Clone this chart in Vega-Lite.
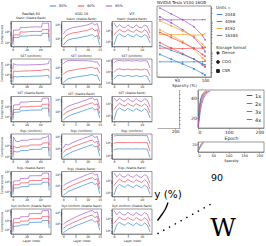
{
"$schema":"https://vega.github.io/schema/vega-lite/v6.json",
"padding":0,
"spacing":1,
"config":{
 "font":"DejaVu Sans",
 "view":{"stroke":"#333","strokeWidth":0.5},
 "axis":{"grid":false,"labelFontSize":3,"titleFontSize":3,"tickSize":1.2,"tickWidth":0.4,"domainWidth":0.4,"domainColor":"#333","tickColor":"#333","labelPadding":0.5,"titlePadding":1,"labelColor":"#222","titleColor":"#222","titleFontWeight":"normal"},
 "title":{"fontSize":3.5,"fontWeight":"normal","offset":1.2,"subtitleFontSize":3,"subtitlePadding":1.5,"color":"#222","subtitleColor":"#222"},
 "legend":{"labelFontSize":4,"titleFontSize":4,"titleFontWeight":"normal","symbolSize":20,"symbolStrokeWidth":1,"rowPadding":1,"padding":0,"labelOffset":2,"titlePadding":1,"offset":3,"labelColor":"#222","titleColor":"#222"}
},
"datasets":{
"k":[{"s":"s80"},{"s":"s90"},{"s":"s95"}],
"g":[
{"p":"1a","x":0,"s80":6,"s90":9,"s95":15},{"p":"1a","x":1,"s80":30,"s90":50,"s95":140},{"p":"1a","x":5,"s80":28,"s90":52,"s95":135},{"p":"1a","x":10,"s80":31,"s90":48,"s95":145},{"p":"1a","x":11,"s80":40,"s90":95,"s95":240},{"p":"1a","x":17,"s80":38,"s90":90,"s95":230},{"p":"1a","x":23,"s80":42,"s90":98,"s95":245},{"p":"1a","x":24,"s80":45,"s90":100,"s95":260},{"p":"1a","x":33,"s80":47,"s90":105,"s95":270},{"p":"1a","x":42,"s80":44,"s90":102,"s95":265},{"p":"1a","x":43,"s80":70,"s90":150,"s95":600},{"p":"1a","x":48,"s80":68,"s90":155,"s95":580},{"p":"1a","x":52,"s80":72,"s90":150,"s95":610},{"p":"1a","x":53,"s80":12,"s90":30,"s95":100},
{"p":"2a","x":0,"s80":15,"s90":40,"s95":300},{"p":"2a","x":1,"s80":60,"s90":220,"s95":1200},{"p":"2a","x":5,"s80":55,"s90":200,"s95":900},{"p":"2a","x":10,"s80":58,"s90":205,"s95":880},{"p":"2a","x":11,"s80":60,"s90":210,"s95":900},{"p":"2a","x":17,"s80":58,"s90":215,"s95":880},{"p":"2a","x":23,"s80":62,"s90":220,"s95":900},{"p":"2a","x":24,"s80":63,"s90":225,"s95":920},{"p":"2a","x":33,"s80":65,"s90":240,"s95":950},{"p":"2a","x":42,"s80":68,"s90":250,"s95":980},{"p":"2a","x":43,"s80":70,"s90":280,"s95":1000},{"p":"2a","x":48,"s80":75,"s90":300,"s95":1100},{"p":"2a","x":52,"s80":80,"s90":320,"s95":1200},{"p":"2a","x":53,"s80":40,"s90":200,"s95":2500},
{"p":"3a","x":0,"s80":5,"s90":8,"s95":14},{"p":"3a","x":1,"s80":25,"s90":45,"s95":120},{"p":"3a","x":5,"s80":26,"s90":47,"s95":125},{"p":"3a","x":10,"s80":27,"s90":46,"s95":128},{"p":"3a","x":11,"s80":35,"s90":80,"s95":220},{"p":"3a","x":17,"s80":36,"s90":82,"s95":225},{"p":"3a","x":23,"s80":37,"s90":83,"s95":230},{"p":"3a","x":24,"s80":40,"s90":90,"s95":250},{"p":"3a","x":33,"s80":41,"s90":92,"s95":255},{"p":"3a","x":42,"s80":42,"s90":93,"s95":258},{"p":"3a","x":43,"s80":60,"s90":140,"s95":500},{"p":"3a","x":48,"s80":61,"s90":142,"s95":520},{"p":"3a","x":52,"s80":62,"s90":145,"s95":530},{"p":"3a","x":53,"s80":10,"s90":25,"s95":90},
{"p":"4a","x":0,"s80":8,"s90":15,"s95":40},{"p":"4a","x":1,"s80":30,"s90":80,"s95":500},{"p":"4a","x":5,"s80":25,"s90":60,"s95":200},{"p":"4a","x":10,"s80":26,"s90":62,"s95":210},{"p":"4a","x":11,"s80":32,"s90":80,"s95":260},{"p":"4a","x":17,"s80":33,"s90":82,"s95":265},{"p":"4a","x":23,"s80":34,"s90":84,"s95":270},{"p":"4a","x":24,"s80":40,"s90":100,"s95":320},{"p":"4a","x":33,"s80":42,"s90":102,"s95":330},{"p":"4a","x":42,"s80":43,"s90":105,"s95":335},{"p":"4a","x":43,"s80":60,"s90":150,"s95":450},{"p":"4a","x":48,"s80":62,"s90":155,"s95":470},{"p":"4a","x":52,"s80":65,"s90":160,"s95":700},{"p":"4a","x":53,"s80":10,"s90":30,"s95":100},
{"p":"5a","x":0,"s80":4,"s90":8,"s95":15},{"p":"5a","x":1,"s80":20,"s90":45,"s95":110},{"p":"5a","x":5,"s80":21,"s90":46,"s95":115},{"p":"5a","x":10,"s80":22,"s90":47,"s95":118},{"p":"5a","x":11,"s80":28,"s90":70,"s95":200},{"p":"5a","x":17,"s80":29,"s90":72,"s95":205},{"p":"5a","x":23,"s80":30,"s90":74,"s95":210},{"p":"5a","x":24,"s80":50,"s90":120,"s95":380},{"p":"5a","x":33,"s80":52,"s90":124,"s95":390},{"p":"5a","x":42,"s80":53,"s90":126,"s95":395},{"p":"5a","x":43,"s80":80,"s90":200,"s95":700},{"p":"5a","x":48,"s80":82,"s90":205,"s95":720},{"p":"5a","x":52,"s80":84,"s90":210,"s95":740},{"p":"5a","x":53,"s80":12,"s90":35,"s95":120},
{"p":"6a","x":0,"s80":5,"s90":9,"s95":18},{"p":"6a","x":1,"s80":22,"s90":50,"s95":130},{"p":"6a","x":5,"s80":23,"s90":52,"s95":135},{"p":"6a","x":10,"s80":24,"s90":53,"s95":138},{"p":"6a","x":11,"s80":30,"s90":75,"s95":210},{"p":"6a","x":17,"s80":31,"s90":77,"s95":215},{"p":"6a","x":23,"s80":32,"s90":79,"s95":220},{"p":"6a","x":24,"s80":55,"s90":130,"s95":450},{"p":"6a","x":33,"s80":57,"s90":135,"s95":460},{"p":"6a","x":42,"s80":58,"s90":137,"s95":470},{"p":"6a","x":43,"s80":85,"s90":230,"s95":900},{"p":"6a","x":48,"s80":88,"s90":235,"s95":920},{"p":"6a","x":52,"s80":90,"s90":240,"s95":950},{"p":"6a","x":53,"s80":14,"s90":40,"s95":150},
{"p":"1b","x":0,"s80":3,"s90":8,"s95":20},{"p":"1b","x":1,"s80":5,"s90":14,"s95":35},{"p":"1b","x":2,"s80":7,"s90":18,"s95":45},{"p":"1b","x":4,"s80":9,"s90":24,"s95":60},{"p":"1b","x":6,"s80":10,"s90":27,"s95":68},{"p":"1b","x":8,"s80":12,"s90":32,"s95":80},{"p":"1b","x":10,"s80":14,"s90":38,"s95":95},{"p":"1b","x":11,"s80":16,"s90":45,"s95":110},{"p":"1b","x":12,"s80":18,"s90":50,"s95":130},{"p":"1b","x":13,"s80":12,"s90":35,"s95":90},{"p":"1b","x":14,"s80":16,"s90":42,"s95":120},{"p":"1b","x":15,"s80":3,"s90":8,"s95":25},
{"p":"2b","x":0,"s80":3,"s90":20,"s95":200},{"p":"2b","x":1,"s80":5,"s90":30,"s95":350},{"p":"2b","x":2,"s80":7,"s90":40,"s95":420},{"p":"2b","x":4,"s80":9,"s90":50,"s95":430},{"p":"2b","x":6,"s80":11,"s90":60,"s95":420},{"p":"2b","x":8,"s80":13,"s90":70,"s95":410},{"p":"2b","x":10,"s80":15,"s90":80,"s95":400},{"p":"2b","x":11,"s80":17,"s90":90,"s95":380},{"p":"2b","x":12,"s80":18,"s90":95,"s95":370},{"p":"2b","x":13,"s80":14,"s90":70,"s95":300},{"p":"2b","x":14,"s80":16,"s90":80,"s95":320},{"p":"2b","x":15,"s80":4,"s90":25,"s95":120},
{"p":"3b","x":0,"s80":2,"s90":5,"s95":12},{"p":"3b","x":1,"s80":3,"s90":8,"s95":20},{"p":"3b","x":2,"s80":4,"s90":10,"s95":26},{"p":"3b","x":4,"s80":6,"s90":15,"s95":38},{"p":"3b","x":6,"s80":8,"s90":20,"s95":50},{"p":"3b","x":8,"s80":11,"s90":28,"s95":70},{"p":"3b","x":10,"s80":15,"s90":38,"s95":95},{"p":"3b","x":11,"s80":18,"s90":45,"s95":115},{"p":"3b","x":12,"s80":20,"s90":50,"s95":125},{"p":"3b","x":13,"s80":13,"s90":33,"s95":85},{"p":"3b","x":14,"s80":17,"s90":42,"s95":105},{"p":"3b","x":15,"s80":3,"s90":7,"s95":18},
{"p":"4b","x":0,"s80":1.5,"s90":4,"s95":10},{"p":"4b","x":1,"s80":2.5,"s90":7,"s95":22},{"p":"4b","x":2,"s80":3,"s90":8,"s95":18},{"p":"4b","x":4,"s80":5,"s90":13,"s95":30},{"p":"4b","x":6,"s80":7,"s90":18,"s95":45},{"p":"4b","x":8,"s80":10,"s90":26,"s95":65},{"p":"4b","x":10,"s80":14,"s90":36,"s95":90},{"p":"4b","x":11,"s80":17,"s90":44,"s95":110},{"p":"4b","x":12,"s80":19,"s90":48,"s95":120},{"p":"4b","x":13,"s80":12,"s90":30,"s95":80},{"p":"4b","x":14,"s80":15,"s90":38,"s95":100},{"p":"4b","x":15,"s80":2,"s90":6,"s95":15},
{"p":"5b","x":0,"s80":1.5,"s90":4,"s95":9},{"p":"5b","x":1,"s80":2,"s90":5,"s95":13},{"p":"5b","x":2,"s80":3,"s90":7,"s95":17},{"p":"5b","x":4,"s80":4.5,"s90":11,"s95":27},{"p":"5b","x":6,"s80":6.5,"s90":16,"s95":40},{"p":"5b","x":8,"s80":9.5,"s90":24,"s95":60},{"p":"5b","x":10,"s80":14,"s90":35,"s95":88},{"p":"5b","x":11,"s80":17,"s90":42,"s95":105},{"p":"5b","x":12,"s80":19,"s90":47,"s95":118},{"p":"5b","x":13,"s80":12,"s90":30,"s95":78},{"p":"5b","x":14,"s80":15,"s90":38,"s95":96},{"p":"5b","x":15,"s80":2,"s90":5,"s95":13},
{"p":"6b","x":0,"s80":1.5,"s90":3.5,"s95":8},{"p":"6b","x":1,"s80":2,"s90":5,"s95":12},{"p":"6b","x":2,"s80":3,"s90":7,"s95":16},{"p":"6b","x":4,"s80":4.5,"s90":11,"s95":26},{"p":"6b","x":6,"s80":7,"s90":17,"s95":42},{"p":"6b","x":8,"s80":10,"s90":26,"s95":65},{"p":"6b","x":10,"s80":15,"s90":38,"s95":95},{"p":"6b","x":11,"s80":18,"s90":46,"s95":118},{"p":"6b","x":12,"s80":20,"s90":50,"s95":130},{"p":"6b","x":13,"s80":12,"s90":30,"s95":80},{"p":"6b","x":14,"s80":16,"s90":40,"s95":100},{"p":"6b","x":15,"s80":2.5,"s90":6,"s95":14},
{"p":"1c","x":0,"s80":5,"s90":40,"s95":500},{"p":"1c","x":1,"s80":30,"s90":80,"s95":200},{"p":"1c","x":2,"s80":50,"s90":130,"s95":350},{"p":"1c","x":3,"s80":35,"s90":90,"s95":220},{"p":"1c","x":4,"s80":28,"s90":75,"s95":190},{"p":"1c","x":5,"s80":48,"s90":125,"s95":340},{"p":"1c","x":6,"s80":33,"s90":88,"s95":215},{"p":"1c","x":7,"s80":27,"s90":72,"s95":185},{"p":"1c","x":8,"s80":47,"s90":122,"s95":335},{"p":"1c","x":9,"s80":32,"s90":86,"s95":210},{"p":"1c","x":10,"s80":26,"s90":70,"s95":180},{"p":"1c","x":11,"s80":45,"s90":120,"s95":330},{"p":"1c","x":12,"s80":30,"s90":80,"s95":250},{"p":"1c","x":13,"s80":8,"s90":20,"s95":60},
{"p":"2c","x":0,"s80":20,"s90":80,"s95":600},{"p":"2c","x":1,"s80":40,"s90":150,"s95":900},{"p":"2c","x":2,"s80":45,"s90":170,"s95":950},{"p":"2c","x":3,"s80":38,"s90":145,"s95":880},{"p":"2c","x":4,"s80":36,"s90":140,"s95":870},{"p":"2c","x":5,"s80":44,"s90":165,"s95":940},{"p":"2c","x":6,"s80":37,"s90":143,"s95":880},{"p":"2c","x":7,"s80":35,"s90":138,"s95":860},{"p":"2c","x":8,"s80":43,"s90":162,"s95":930},{"p":"2c","x":9,"s80":36,"s90":140,"s95":870},{"p":"2c","x":10,"s80":34,"s90":136,"s95":850},{"p":"2c","x":11,"s80":42,"s90":160,"s95":920},{"p":"2c","x":12,"s80":36,"s90":140,"s95":850},{"p":"2c","x":13,"s80":10,"s90":40,"s95":200},
{"p":"3c","x":0,"s80":4,"s90":30,"s95":300},{"p":"3c","x":1,"s80":25,"s90":65,"s95":160},{"p":"3c","x":2,"s80":42,"s90":110,"s95":290},{"p":"3c","x":3,"s80":30,"s90":75,"s95":180},{"p":"3c","x":4,"s80":24,"s90":62,"s95":155},{"p":"3c","x":5,"s80":40,"s90":105,"s95":280},{"p":"3c","x":6,"s80":28,"s90":72,"s95":175},{"p":"3c","x":7,"s80":23,"s90":60,"s95":150},{"p":"3c","x":8,"s80":38,"s90":100,"s95":270},{"p":"3c","x":9,"s80":27,"s90":70,"s95":170},{"p":"3c","x":10,"s80":22,"s90":58,"s95":145},{"p":"3c","x":11,"s80":36,"s90":95,"s95":260},{"p":"3c","x":12,"s80":25,"s90":65,"s95":200},{"p":"3c","x":13,"s80":6,"s90":16,"s95":50},
{"p":"4c","x":0,"s80":25,"s90":90,"s95":350},{"p":"4c","x":1,"s80":30,"s90":100,"s95":380},{"p":"4c","x":2,"s80":31,"s90":102,"s95":385},{"p":"4c","x":3,"s80":30,"s90":99,"s95":378},{"p":"4c","x":4,"s80":30,"s90":100,"s95":380},{"p":"4c","x":5,"s80":31,"s90":101,"s95":383},{"p":"4c","x":6,"s80":30,"s90":99,"s95":379},{"p":"4c","x":7,"s80":30,"s90":100,"s95":380},{"p":"4c","x":8,"s80":31,"s90":101,"s95":384},{"p":"4c","x":9,"s80":30,"s90":100,"s95":379},{"p":"4c","x":10,"s80":30,"s90":99,"s95":378},{"p":"4c","x":11,"s80":31,"s90":101,"s95":382},{"p":"4c","x":12,"s80":29,"s90":97,"s95":370},{"p":"4c","x":13,"s80":6,"s90":20,"s95":80},
{"p":"5c","x":0,"s80":6,"s90":35,"s95":400},{"p":"5c","x":1,"s80":28,"s90":75,"s95":190},{"p":"5c","x":2,"s80":45,"s90":120,"s95":320},{"p":"5c","x":3,"s80":32,"s90":85,"s95":210},{"p":"5c","x":4,"s80":26,"s90":70,"s95":180},{"p":"5c","x":5,"s80":43,"s90":115,"s95":310},{"p":"5c","x":6,"s80":31,"s90":82,"s95":205},{"p":"5c","x":7,"s80":25,"s90":68,"s95":175},{"p":"5c","x":8,"s80":42,"s90":112,"s95":300},{"p":"5c","x":9,"s80":30,"s90":80,"s95":200},{"p":"5c","x":10,"s80":24,"s90":66,"s95":170},{"p":"5c","x":11,"s80":40,"s90":108,"s95":290},{"p":"5c","x":12,"s80":28,"s90":75,"s95":220},{"p":"5c","x":13,"s80":7,"s90":18,"s95":55},
{"p":"6c","x":0,"s80":7,"s90":38,"s95":450},{"p":"6c","x":1,"s80":30,"s90":80,"s95":200},{"p":"6c","x":2,"s80":48,"s90":125,"s95":340},{"p":"6c","x":3,"s80":34,"s90":88,"s95":220},{"p":"6c","x":4,"s80":27,"s90":73,"s95":185},{"p":"6c","x":5,"s80":46,"s90":120,"s95":330},{"p":"6c","x":6,"s80":33,"s90":85,"s95":212},{"p":"6c","x":7,"s80":26,"s90":70,"s95":180},{"p":"6c","x":8,"s80":44,"s90":118,"s95":320},{"p":"6c","x":9,"s80":31,"s90":83,"s95":208},{"p":"6c","x":10,"s80":25,"s90":68,"s95":175},{"p":"6c","x":11,"s80":42,"s90":112,"s95":305},{"p":"6c","x":12,"s80":29,"s90":78,"s95":230},{"p":"6c","x":13,"s80":8,"s90":20,"s95":60}
],
"t":[
{"u":"16384","f":"COO","x":84,"y":300},{"u":"16384","f":"COO","x":88,"y":190},{"u":"16384","f":"COO","x":92,"y":120},{"u":"16384","f":"COO","x":96,"y":70},{"u":"16384","f":"COO","x":99,"y":35},{"u":"16384","f":"COO","x":99.9,"y":25},
{"u":"16384","f":"Dense","x":84,"y":120},{"u":"16384","f":"Dense","x":88,"y":118},{"u":"16384","f":"Dense","x":92,"y":121},{"u":"16384","f":"Dense","x":96,"y":119},{"u":"16384","f":"Dense","x":99,"y":120},{"u":"16384","f":"Dense","x":99.9,"y":122},
{"u":"16384","f":"CSR","x":84,"y":150},{"u":"16384","f":"CSR","x":88,"y":95},{"u":"16384","f":"CSR","x":92,"y":55},{"u":"16384","f":"CSR","x":96,"y":30},{"u":"16384","f":"CSR","x":99,"y":14},{"u":"16384","f":"CSR","x":99.9,"y":10},
{"u":"8192","f":"COO","x":84,"y":110},{"u":"8192","f":"COO","x":88,"y":75},{"u":"8192","f":"COO","x":92,"y":50},{"u":"8192","f":"COO","x":96,"y":32},{"u":"8192","f":"COO","x":99,"y":18},{"u":"8192","f":"COO","x":99.9,"y":14},
{"u":"8192","f":"Dense","x":84,"y":38},{"u":"8192","f":"Dense","x":88,"y":37},{"u":"8192","f":"Dense","x":92,"y":38},{"u":"8192","f":"Dense","x":96,"y":36},{"u":"8192","f":"Dense","x":99,"y":37},{"u":"8192","f":"Dense","x":99.9,"y":40},
{"u":"8192","f":"CSR","x":84,"y":55},{"u":"8192","f":"CSR","x":88,"y":35},{"u":"8192","f":"CSR","x":92,"y":22},{"u":"8192","f":"CSR","x":96,"y":12},{"u":"8192","f":"CSR","x":99,"y":6},{"u":"8192","f":"CSR","x":99.9,"y":5},
{"u":"4096","f":"COO","x":84,"y":45},{"u":"4096","f":"COO","x":88,"y":30},{"u":"4096","f":"COO","x":92,"y":20},{"u":"4096","f":"COO","x":96,"y":13},{"u":"4096","f":"COO","x":99,"y":8},{"u":"4096","f":"COO","x":99.9,"y":7},
{"u":"4096","f":"Dense","x":84,"y":13},{"u":"4096","f":"Dense","x":88,"y":13},{"u":"4096","f":"Dense","x":92,"y":12.5},{"u":"4096","f":"Dense","x":96,"y":13},{"u":"4096","f":"Dense","x":99,"y":13},{"u":"4096","f":"Dense","x":99.9,"y":13.5},
{"u":"4096","f":"CSR","x":84,"y":20},{"u":"4096","f":"CSR","x":88,"y":13},{"u":"4096","f":"CSR","x":92,"y":8.5},{"u":"4096","f":"CSR","x":96,"y":5.5},{"u":"4096","f":"CSR","x":99,"y":3.5},{"u":"4096","f":"CSR","x":99.9,"y":3},
{"u":"2048","f":"COO","x":84,"y":16},{"u":"2048","f":"COO","x":88,"y":11},{"u":"2048","f":"COO","x":92,"y":8},{"u":"2048","f":"COO","x":96,"y":5.5},{"u":"2048","f":"COO","x":99,"y":3.8},{"u":"2048","f":"COO","x":99.9,"y":3.5},
{"u":"2048","f":"Dense","x":84,"y":4.5},{"u":"2048","f":"Dense","x":88,"y":4.5},{"u":"2048","f":"Dense","x":92,"y":4.4},{"u":"2048","f":"Dense","x":96,"y":4.5},{"u":"2048","f":"Dense","x":99,"y":4.5},{"u":"2048","f":"Dense","x":99.9,"y":4.6},
{"u":"2048","f":"CSR","x":84,"y":8},{"u":"2048","f":"CSR","x":88,"y":5.5},{"u":"2048","f":"CSR","x":92,"y":3.8},{"u":"2048","f":"CSR","x":96,"y":2.6},{"u":"2048","f":"CSR","x":99,"y":1.8},{"u":"2048","f":"CSR","x":99.9,"y":1.6}
],
"e":[
{"k":"1x","x":1,"y":12},{"k":"1x","x":3,"y":25},{"k":"1x","x":5,"y":32},{"k":"1x","x":8,"y":38},{"k":"1x","x":12,"y":42},{"k":"1x","x":18,"y":45},{"k":"1x","x":25,"y":47},
{"k":"2x","x":1,"y":11},{"k":"2x","x":3,"y":22},{"k":"2x","x":6,"y":31},{"k":"2x","x":10,"y":38},{"k":"2x","x":15,"y":42},{"k":"2x","x":22,"y":45},{"k":"2x","x":30,"y":47},
{"k":"3x","x":1,"y":11},{"k":"3x","x":4,"y":22},{"k":"3x","x":8,"y":32},{"k":"3x","x":12,"y":37},{"k":"3x","x":18,"y":42},{"k":"3x","x":26,"y":45},{"k":"3x","x":35,"y":47},
{"k":"4x","x":1,"y":11},{"k":"4x","x":5,"y":21},{"k":"4x","x":10,"y":31},{"k":"4x","x":15,"y":37},{"k":"4x","x":22,"y":42},{"k":"4x","x":30,"y":45},{"k":"4x","x":40,"y":47}
],
"b":[
{"k":"a","x":0,"y":2},{"k":"a","x":5,"y":12},{"k":"a","x":10,"y":20},{"k":"a","x":15,"y":25},
{"k":"b","x":0,"y":1},{"k":"b","x":6,"y":10},{"k":"b","x":12,"y":18},{"k":"b","x":18,"y":25}
],
"n":[
{"k":"curve","x":1.1,"y":3.65},{"k":"curve","x":0.9,"y":3.05},{"k":"curve","x":0.5,"y":2.45},{"k":"curve","x":0.05,"y":1.85},
{"k":"dots","x":0.1,"y":0.55},{"k":"dots","x":5.5,"y":3.55},
{"k":"t90","x":6.0,"y":6.1,"t":"90"},
{"k":"tpct","x":1.1,"y":4.45,"t":"y (%)"},
{"k":"w","x":6.6,"y":1.15,"t":"W"}
]
},
"hconcat":[
{"vconcat":[
 {"width":100,"height":3,"view":{"stroke":null},"data":{"name":"k"},"mark":{"type":"point","opacity":0},"encoding":{"color":{"field":"s","type":"nominal","scale":{"domain":["s80","s90","s95"],"range":["#3a87d1","#f0474f","#a05cc8"]},"legend":{"orient":"none","legendX":38,"legendY":-4,"title":null,"direction":"horizontal","labelExpr":"replace(datum.label,'s','')+'%'","symbolType":"stroke","symbolOpacity":1,"symbolSize":40,"columnPadding":8,"labelFontSize":3.5}}}},
 {"concat":[
  {"width":40,"height":25,"title":{"text":"ResNet-50","subtitle":"Static (Stable-Rank)"},"data":{"name":"g"},"transform":[{"filter":"datum.p=='1a'"},{"fold":["s80","s90","s95"],"as":["s","v"]}],"mark":{"type":"line","strokeWidth":0.7},"encoding":{"x":{"field":"x","type":"quantitative","scale":{"domain":[-2.65,55.65]},"axis":{"values":[0,20,40],"title":null}},"y":{"field":"v","type":"quantitative","scale":{"type":"log","nice":false,"padding":1.5},"axis":{"tickCount":3,"labelExpr":"abs(log(datum.value)/LN10-round(log(datum.value)/LN10))<0.01?'10'+['⁰','¹','²','³','⁴'][round(log(datum.value)/LN10)]:''","title":"Compression"}},"color":{"field":"s","type":"nominal"}}},
  {"width":40,"height":25,"title":{"text":"VGG-16","subtitle":"Static (Stable-Rank)"},"data":{"name":"g"},"transform":[{"filter":"datum.p=='1b'"},{"fold":["s80","s90","s95"],"as":["s","v"]}],"mark":{"type":"line","strokeWidth":0.7},"encoding":{"x":{"field":"x","type":"quantitative","scale":{"domain":[-0.75,15.75]},"axis":{"values":[0,5,10,15],"title":null}},"y":{"field":"v","type":"quantitative","scale":{"type":"log","nice":false,"padding":1.5},"axis":{"tickCount":3,"labelExpr":"abs(log(datum.value)/LN10-round(log(datum.value)/LN10))<0.01?'10'+['⁰','¹','²','³','⁴'][round(log(datum.value)/LN10)]:''","title":null}},"color":{"field":"s","type":"nominal"}}},
  {"width":40,"height":25,"title":{"text":"ViT","subtitle":"Static (Stable-Rank)"},"data":{"name":"g"},"transform":[{"filter":"datum.p=='1c'"},{"fold":["s80","s90","s95"],"as":["s","v"]}],"mark":{"type":"line","strokeWidth":0.7},"encoding":{"x":{"field":"x","type":"quantitative","scale":{"domain":[-0.7,13.7]},"axis":{"values":[0,5,10],"title":null}},"y":{"field":"v","type":"quantitative","scale":{"type":"log","nice":false,"padding":1.5},"axis":{"tickCount":3,"labelExpr":"abs(log(datum.value)/LN10-round(log(datum.value)/LN10))<0.01?'10'+['⁰','¹','²','³','⁴'][round(log(datum.value)/LN10)]:''","title":null}},"color":{"field":"s","type":"nominal"}}},
  {"width":40,"height":25,"title":{"text":"SET (Uniform)","fontSize":3},"data":{"name":"g"},"transform":[{"filter":"datum.p=='2a'"},{"fold":["s80","s90","s95"],"as":["s","v"]}],"mark":{"type":"line","strokeWidth":0.7},"encoding":{"x":{"field":"x","type":"quantitative","scale":{"domain":[-2.65,55.65]},"axis":{"values":[0,20,40],"title":null}},"y":{"field":"v","type":"quantitative","scale":{"type":"log","nice":false,"padding":1.5},"axis":{"tickCount":3,"labelExpr":"abs(log(datum.value)/LN10-round(log(datum.value)/LN10))<0.01?'10'+['⁰','¹','²','³','⁴'][round(log(datum.value)/LN10)]:''","title":"Compression"}},"color":{"field":"s","type":"nominal"}}},
  {"width":40,"height":25,"title":{"text":"SET (Uniform)","fontSize":3},"data":{"name":"g"},"transform":[{"filter":"datum.p=='2b'"},{"fold":["s80","s90","s95"],"as":["s","v"]}],"mark":{"type":"line","strokeWidth":0.7},"encoding":{"x":{"field":"x","type":"quantitative","scale":{"domain":[-0.75,15.75]},"axis":{"values":[0,5,10,15],"title":null}},"y":{"field":"v","type":"quantitative","scale":{"type":"log","nice":false,"padding":1.5},"axis":{"tickCount":3,"labelExpr":"abs(log(datum.value)/LN10-round(log(datum.value)/LN10))<0.01?'10'+['⁰','¹','²','³','⁴'][round(log(datum.value)/LN10)]:''","title":null}},"color":{"field":"s","type":"nominal"}}},
  {"width":40,"height":25,"title":{"text":"SET (Uniform)","fontSize":3},"data":{"name":"g"},"transform":[{"filter":"datum.p=='2c'"},{"fold":["s80","s90","s95"],"as":["s","v"]}],"mark":{"type":"line","strokeWidth":0.7},"encoding":{"x":{"field":"x","type":"quantitative","scale":{"domain":[-0.7,13.7]},"axis":{"values":[0,5,10],"title":null}},"y":{"field":"v","type":"quantitative","scale":{"type":"log","nice":false,"padding":1.5},"axis":{"tickCount":3,"labelExpr":"abs(log(datum.value)/LN10-round(log(datum.value)/LN10))<0.01?'10'+['⁰','¹','²','³','⁴'][round(log(datum.value)/LN10)]:''","title":null}},"color":{"field":"s","type":"nominal"}}},
  {"width":40,"height":25,"title":{"text":"SET (Stable-Rank)","fontSize":3},"data":{"name":"g"},"transform":[{"filter":"datum.p=='3a'"},{"fold":["s80","s90","s95"],"as":["s","v"]}],"mark":{"type":"line","strokeWidth":0.7},"encoding":{"x":{"field":"x","type":"quantitative","scale":{"domain":[-2.65,55.65]},"axis":{"values":[0,20,40],"title":null}},"y":{"field":"v","type":"quantitative","scale":{"type":"log","nice":false,"padding":1.5},"axis":{"tickCount":3,"labelExpr":"abs(log(datum.value)/LN10-round(log(datum.value)/LN10))<0.01?'10'+['⁰','¹','²','³','⁴'][round(log(datum.value)/LN10)]:''","title":"Compression"}},"color":{"field":"s","type":"nominal"}}},
  {"width":40,"height":25,"title":{"text":"SET (Stable-Rank)","fontSize":3},"data":{"name":"g"},"transform":[{"filter":"datum.p=='3b'"},{"fold":["s80","s90","s95"],"as":["s","v"]}],"mark":{"type":"line","strokeWidth":0.7},"encoding":{"x":{"field":"x","type":"quantitative","scale":{"domain":[-0.75,15.75]},"axis":{"values":[0,5,10,15],"title":null}},"y":{"field":"v","type":"quantitative","scale":{"type":"log","nice":false,"padding":1.5},"axis":{"tickCount":3,"labelExpr":"abs(log(datum.value)/LN10-round(log(datum.value)/LN10))<0.01?'10'+['⁰','¹','²','³','⁴'][round(log(datum.value)/LN10)]:''","title":null}},"color":{"field":"s","type":"nominal"}}},
  {"width":40,"height":25,"title":{"text":"SET (Stable-Rank)","fontSize":3},"data":{"name":"g"},"transform":[{"filter":"datum.p=='3c'"},{"fold":["s80","s90","s95"],"as":["s","v"]}],"mark":{"type":"line","strokeWidth":0.7},"encoding":{"x":{"field":"x","type":"quantitative","scale":{"domain":[-0.7,13.7]},"axis":{"values":[0,5,10],"title":null}},"y":{"field":"v","type":"quantitative","scale":{"type":"log","nice":false,"padding":1.5},"axis":{"tickCount":3,"labelExpr":"abs(log(datum.value)/LN10-round(log(datum.value)/LN10))<0.01?'10'+['⁰','¹','²','³','⁴'][round(log(datum.value)/LN10)]:''","title":null}},"color":{"field":"s","type":"nominal"}}},
  {"width":40,"height":25,"title":{"text":"RigL (Uniform)","fontSize":3},"data":{"name":"g"},"transform":[{"filter":"datum.p=='4a'"},{"fold":["s80","s90","s95"],"as":["s","v"]}],"mark":{"type":"line","strokeWidth":0.7},"encoding":{"x":{"field":"x","type":"quantitative","scale":{"domain":[-2.65,55.65]},"axis":{"values":[0,20,40],"title":null}},"y":{"field":"v","type":"quantitative","scale":{"type":"log","nice":false,"padding":1.5},"axis":{"tickCount":3,"labelExpr":"abs(log(datum.value)/LN10-round(log(datum.value)/LN10))<0.01?'10'+['⁰','¹','²','³','⁴'][round(log(datum.value)/LN10)]:''","title":"Compression"}},"color":{"field":"s","type":"nominal"}}},
  {"width":40,"height":25,"title":{"text":"RigL (Uniform)","fontSize":3},"data":{"name":"g"},"transform":[{"filter":"datum.p=='4b'"},{"fold":["s80","s90","s95"],"as":["s","v"]}],"mark":{"type":"line","strokeWidth":0.7},"encoding":{"x":{"field":"x","type":"quantitative","scale":{"domain":[-0.75,15.75]},"axis":{"values":[0,5,10,15],"title":null}},"y":{"field":"v","type":"quantitative","scale":{"type":"log","nice":false,"padding":1.5},"axis":{"tickCount":3,"labelExpr":"abs(log(datum.value)/LN10-round(log(datum.value)/LN10))<0.01?'10'+['⁰','¹','²','³','⁴'][round(log(datum.value)/LN10)]:''","title":null}},"color":{"field":"s","type":"nominal"}}},
  {"width":40,"height":25,"title":{"text":"RigL (Uniform)","fontSize":3},"data":{"name":"g"},"transform":[{"filter":"datum.p=='4c'"},{"fold":["s80","s90","s95"],"as":["s","v"]}],"mark":{"type":"line","strokeWidth":0.7},"encoding":{"x":{"field":"x","type":"quantitative","scale":{"domain":[-0.7,13.7]},"axis":{"values":[0,5,10],"title":null}},"y":{"field":"v","type":"quantitative","scale":{"type":"log","nice":false,"padding":1.5},"axis":{"tickCount":3,"labelExpr":"abs(log(datum.value)/LN10-round(log(datum.value)/LN10))<0.01?'10'+['⁰','¹','²','³','⁴'][round(log(datum.value)/LN10)]:''","title":null}},"color":{"field":"s","type":"nominal"}}},
  {"width":40,"height":25,"title":{"text":"RigL (Stable-Rank)","fontSize":3},"data":{"name":"g"},"transform":[{"filter":"datum.p=='5a'"},{"fold":["s80","s90","s95"],"as":["s","v"]}],"mark":{"type":"line","strokeWidth":0.7},"encoding":{"x":{"field":"x","type":"quantitative","scale":{"domain":[-2.65,55.65]},"axis":{"values":[0,20,40],"title":null}},"y":{"field":"v","type":"quantitative","scale":{"type":"log","nice":false,"padding":1.5},"axis":{"tickCount":3,"labelExpr":"abs(log(datum.value)/LN10-round(log(datum.value)/LN10))<0.01?'10'+['⁰','¹','²','³','⁴'][round(log(datum.value)/LN10)]:''","title":"Compression"}},"color":{"field":"s","type":"nominal"}}},
  {"width":40,"height":25,"title":{"text":"RigL (Stable-Rank)","fontSize":3},"data":{"name":"g"},"transform":[{"filter":"datum.p=='5b'"},{"fold":["s80","s90","s95"],"as":["s","v"]}],"mark":{"type":"line","strokeWidth":0.7},"encoding":{"x":{"field":"x","type":"quantitative","scale":{"domain":[-0.75,15.75]},"axis":{"values":[0,5,10,15],"title":null}},"y":{"field":"v","type":"quantitative","scale":{"type":"log","nice":false,"padding":1.5},"axis":{"tickCount":3,"labelExpr":"abs(log(datum.value)/LN10-round(log(datum.value)/LN10))<0.01?'10'+['⁰','¹','²','³','⁴'][round(log(datum.value)/LN10)]:''","title":null}},"color":{"field":"s","type":"nominal"}}},
  {"width":40,"height":25,"title":{"text":"RigL (Stable-Rank)","fontSize":3},"data":{"name":"g"},"transform":[{"filter":"datum.p=='5c'"},{"fold":["s80","s90","s95"],"as":["s","v"]}],"mark":{"type":"line","strokeWidth":0.7},"encoding":{"x":{"field":"x","type":"quantitative","scale":{"domain":[-0.7,13.7]},"axis":{"values":[0,5,10],"title":null}},"y":{"field":"v","type":"quantitative","scale":{"type":"log","nice":false,"padding":1.5},"axis":{"tickCount":3,"labelExpr":"abs(log(datum.value)/LN10-round(log(datum.value)/LN10))<0.01?'10'+['⁰','¹','²','³','⁴'][round(log(datum.value)/LN10)]:''","title":null}},"color":{"field":"s","type":"nominal"}}},
  {"width":40,"height":25,"title":{"text":"Dyn Uniform (Stable-Rank)","fontSize":3},"data":{"name":"g"},"transform":[{"filter":"datum.p=='6a'"},{"fold":["s80","s90","s95"],"as":["s","v"]}],"mark":{"type":"line","strokeWidth":0.7},"encoding":{"x":{"field":"x","type":"quantitative","scale":{"domain":[-2.65,55.65]},"axis":{"values":[0,20,40],"title":"Layer index"}},"y":{"field":"v","type":"quantitative","scale":{"type":"log","nice":false,"padding":1.5},"axis":{"tickCount":3,"labelExpr":"abs(log(datum.value)/LN10-round(log(datum.value)/LN10))<0.01?'10'+['⁰','¹','²','³','⁴'][round(log(datum.value)/LN10)]:''","title":"Compression"}},"color":{"field":"s","type":"nominal"}}},
  {"width":40,"height":25,"title":{"text":"Dyn Uniform (Stable-Rank)","fontSize":3},"data":{"name":"g"},"transform":[{"filter":"datum.p=='6b'"},{"fold":["s80","s90","s95"],"as":["s","v"]}],"mark":{"type":"line","strokeWidth":0.7},"encoding":{"x":{"field":"x","type":"quantitative","scale":{"domain":[-0.75,15.75]},"axis":{"values":[0,5,10,15],"title":"Layer index"}},"y":{"field":"v","type":"quantitative","scale":{"type":"log","nice":false,"padding":1.5},"axis":{"tickCount":3,"labelExpr":"abs(log(datum.value)/LN10-round(log(datum.value)/LN10))<0.01?'10'+['⁰','¹','²','³','⁴'][round(log(datum.value)/LN10)]:''","title":null}},"color":{"field":"s","type":"nominal"}}},
  {"width":40,"height":25,"title":{"text":"Dyn Uniform (Stable-Rank)","fontSize":3},"data":{"name":"g"},"transform":[{"filter":"datum.p=='6c'"},{"fold":["s80","s90","s95"],"as":["s","v"]}],"mark":{"type":"line","strokeWidth":0.7},"encoding":{"x":{"field":"x","type":"quantitative","scale":{"domain":[-0.7,13.7]},"axis":{"values":[0,5,10],"title":"Layer index"}},"y":{"field":"v","type":"quantitative","scale":{"type":"log","nice":false,"padding":1.5},"axis":{"tickCount":3,"labelExpr":"abs(log(datum.value)/LN10-round(log(datum.value)/LN10))<0.01?'10'+['⁰','¹','²','³','⁴'][round(log(datum.value)/LN10)]:''","title":null}},"color":{"field":"s","type":"nominal"}}}
 ],"columns":3,"spacing":{"row":12.5,"column":10.5},"bounds":"flush"}
],"spacing":0.5},
{"vconcat":[
 {"width":54,"height":71,"title":{"text":"NVIDIA Tesla V100 16GB","anchor":"start","fontSize":4},"data":{"name":"t"},
  "encoding":{"x":{"field":"x","type":"quantitative","scale":{"domain":[83,102]},"axis":{"values":[90,99.9],"title":"Sparsity (%)","labelFontSize":4,"titleFontSize":4}},
   "y":{"field":"y","type":"quantitative","scale":{"type":"log","nice":false,"padding":2},"axis":{"orient":"right","labels":false,"tickCount":4,"title":null}},
   "color":{"field":"u","type":"nominal","sort":["2048","4096","8192","16384"],"scale":{"domain":["2048","4096","8192","16384"],"range":["#3a87d1","#f0474f","#f5a030","#a05cc8"]},"legend":{"title":"Units =","orient":"right","symbolType":"stroke","symbolSize":30}}},
  "layer":[
   {"mark":{"type":"line","strokeWidth":0.7},"encoding":{"detail":{"field":"f","type":"nominal"}}},
   {"mark":{"type":"point","filled":true,"size":3,"opacity":1},"encoding":{"shape":{"field":"f","type":"nominal","sort":["Dense","COO","CSR"],"scale":{"domain":["Dense","COO","CSR"],"range":["diamond","circle","square"]},"legend":{"title":"Storage format","orient":"right","symbolFillColor":"#222","symbolStrokeColor":"#222","symbolSize":8}}}}
  ]},
 {"hconcat":[
  {"width":22,"height":38,"view":{"stroke":null},"data":{"values":[]},"mark":"point","encoding":{"x":{"field":"x","type":"quantitative","scale":{"domain":[150,210]},"axis":{"values":[200],"title":null,"labelFontSize":4}},"y":{"field":"y","type":"quantitative","scale":{"domain":[0,1]},"axis":{"orient":"right","labels":false,"tickCount":10,"title":null}}}},
  {"vconcat":[
   {"width":66,"height":38,"data":{"name":"e"},"mark":{"type":"line","strokeWidth":0.8,"interpolate":"monotone"},"encoding":{"x":{"field":"x","type":"quantitative","scale":{"domain":[0,215]},"axis":{"values":[0,100,200],"title":"Epoch","labelFontSize":4.5,"titleFontSize":4.5}},"y":{"field":"y","type":"quantitative","scale":{"domain":[10,48]},"axis":{"values":[20,40],"title":null,"labelFontSize":4.5}},"color":{"field":"k","type":"nominal","scale":{"domain":["1x","2x","3x","4x"],"range":["#555555","#3a87d1","#f0474f","#a05cc8"]},"legend":{"title":null,"orient":"top-right","symbolType":"stroke","labelFontSize":5,"offset":2,"symbolSize":30}}}},
   {"width":66,"height":10,"data":{"name":"b"},"mark":{"type":"line","strokeWidth":0.8},"encoding":{"x":{"field":"x","type":"quantitative","scale":{"domain":[0,215]},"axis":{"values":[0,50,100,150,200],"title":"Sparsity","labelFontSize":3.5,"titleFontSize":3.5}},"y":{"field":"y","type":"quantitative","scale":{"domain":[0,26]},"axis":{"values":[20],"title":null,"labelFontSize":3.5}},"color":{"field":"k","type":"nominal","scale":{"domain":["a","b"],"range":["#f0474f","#3a87d1"]},"legend":null}}}
  ],"spacing":0,"resolve":{"scale":{"color":"independent"}}}
 ],"spacing":9},
 {"width":111,"height":76,"view":{"stroke":null},"data":{"name":"n"},
  "encoding":{"x":{"field":"x","type":"quantitative","scale":{"domain":[0,11.1]},"axis":null},"y":{"field":"y","type":"quantitative","scale":{"domain":[0,7.6]},"axis":null}},
  "layer":[
   {"transform":[{"filter":"datum.k=='curve'"}],"mark":{"type":"line","color":"#000","strokeWidth":1.3,"interpolate":"basis"}},
   {"transform":[{"filter":"datum.k=='dots'"}],"mark":{"type":"line","color":"#000","strokeWidth":1.6,"strokeDash":[0.1,6.5],"strokeCap":"round"}},
   {"transform":[{"filter":"datum.k=='t90'"}],"mark":{"type":"text","fontSize":9.5,"baseline":"middle","color":"#000"},"encoding":{"text":{"field":"t"}}},
   {"transform":[{"filter":"datum.k=='tpct'"}],"mark":{"type":"text","fontSize":10.5,"baseline":"middle","color":"#000"},"encoding":{"text":{"field":"t"}}},
   {"transform":[{"filter":"datum.k=='w'"}],"mark":{"type":"text","fontSize":25,"font":"DejaVu Serif","baseline":"middle","color":"#000"},"encoding":{"text":{"field":"t"}}}
  ]}
],"spacing":1,"resolve":{"scale":{"color":"independent","shape":"independent"}}}
],
"resolve":{"scale":{"color":"independent","shape":"independent"}}
}
